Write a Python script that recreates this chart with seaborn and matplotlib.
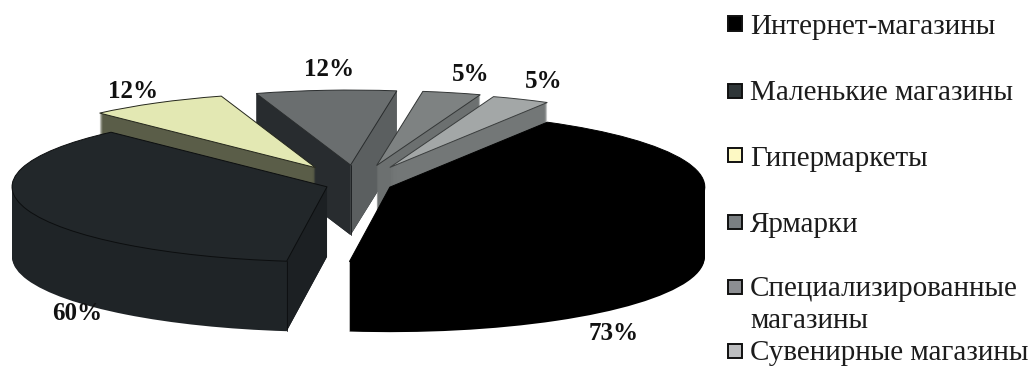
import numpy as np
import matplotlib
matplotlib.use("Agg")
import matplotlib.pyplot as plt
from matplotlib.patches import Rectangle
import seaborn as sns

categories = ["Интернет-магазины", "Маленькие магазины", "Гипермаркеты", "Ярмарки",
              "Специализированные\nмагазины", "Сувенирные магазины"]
values = [73, 60, 12, 12, 5, 5]
value_labels = ["73%", "60%", "12%", "12%", "5%", "5%"]

explode = [0.11, 0.10, 0.26, 0.26, 0.26, 0.25]
top_colors = ["#000000", "#22272a", "#e3e8b3", "#6a6e6f", "#7e8282", "#a3a7a7"]
wall_colors = ["#000000", "#1f2427", "#5a5d48", "#282c2f", "#6c7070", "#737777"]
edge_colors = ["#000000", "#0c0e0f", "#24261c", "#2a2d2e", "#333636", "#3a3d3d"]
grey_right_wall = "#5b5f60"
dark_right_wall = "#1c2023"
legend_colors = ["#000000", "#2f3638", "#fdf9c4", "#7a7f82", "#8c8e92", "#bcbdbf"]
# back-to-front stacking of the slices
draw_rank = {3: 0, 4: 1, 5: 2, 2: 3, 1: 4, 0: 5}

W, H = 1032, 367
CX, CY, RX, RY = 357, 184.5, 315, 75
DEPTH_PX = 70
START = 60

label_px = [(614, 333.5), (77, 313.5), (133, 91.5), (329, 69.5), (471, 74.5), (544, 81.5)]
legend_rows_px = [25, 92, 157, 223, 288, 352]
TEXT_DY = 1.5

sns.set_theme(style="white")
plt.rcParams["font.family"] = ["Liberation Serif", "DejaVu Serif"]

fig = plt.figure(figsize=(W / 100, H / 100), dpi=100, facecolor="white")
ax = fig.add_axes([0, 0, 1, 1])

n_layers = DEPTH_PX
depth = DEPTH_PX / RY
for k in range(n_layers, 0, -1):
    wedges, _ = ax.pie(values, explode=explode, center=(0, -k * depth / n_layers),
                       colors=wall_colors, startangle=START, counterclock=False, radius=1,
                       wedgeprops=dict(linewidth=0))
    for i, w in enumerate(wedges):
        w.set_zorder(draw_rank[i] * 1000 + (n_layers - k))

top, _ = ax.pie(values, explode=explode, center=(0, 0), colors=top_colors,
                startangle=START, counterclock=False, radius=1,
                wedgeprops=dict(linewidth=0.7))
for i, w in enumerate(top):
    w.set_edgecolor(edge_colors[i])
    w.set_zorder(draw_rank[i] * 1000 + 900)


def rim(w, theta):
    return w.center[0] + np.cos(np.radians(theta)), w.center[1] + np.sin(np.radians(theta))


def radial_wall(w, theta, color, z):
    ax0, ay0 = w.center
    ex, ey = rim(w, theta)
    ax.fill([ax0, ex, ex, ax0], [ay0, ey, ey - depth, ay0 - depth], color=color, lw=0, zorder=z)


# the two radial walls of the "Ярмарки" slice have different shades
g = top[3]
radial_wall(g, g.theta2, wall_colors[3], 850)
radial_wall(g, g.theta1, grey_right_wall, 851)
ax.plot([g.center[0]] * 2, [g.center[1], g.center[1] - depth], color="#15181a", lw=0.6, zorder=852)

# right radial wall of the dark slice and its vertical edge
d = top[1]
radial_wall(d, d.theta2, dark_right_wall, 4850)
cx_d, cy_d = rim(d, d.theta2)
ax.plot([cx_d, cx_d], [cy_d, cy_d - depth], color="#0c0e0f", lw=0.6, zorder=4851)

ax.set_aspect("auto")
ax.set_xlim(-CX / RX, (W - CX) / RX)
ax.set_ylim(-(H - CY) / RY, CY / RY)
ax.axis("off")

for lab, (px, py) in zip(value_labels, label_px):
    fig.text(px / W, 1 - py / H, lab, ha="center", va="center", fontsize=18,
             fontweight="bold", color="#111111", zorder=20000)

for cat, col, py in zip(categories, legend_colors, legend_rows_px):
    fig.add_artist(Rectangle((728 / W, 1 - (py + 5.5) / H), 14 / W, 14 / H,
                             transform=fig.transFigure, facecolor=col,
                             edgecolor="#101010", linewidth=1.4, zorder=20000))
    first, *rest = cat.split("\n")
    fig.text(750 / W, 1 - (py + TEXT_DY) / H, first, ha="left", va="center", fontsize=21,
             color="#1c1c1c", zorder=20000)
    if rest:
        fig.text(750 / W, 1 - (py + 32 + TEXT_DY) / H, rest[0], ha="left", va="center",
                 fontsize=21, color="#1c1c1c", zorder=20000)

fig.savefig("out.png", dpi=100, facecolor="white")
